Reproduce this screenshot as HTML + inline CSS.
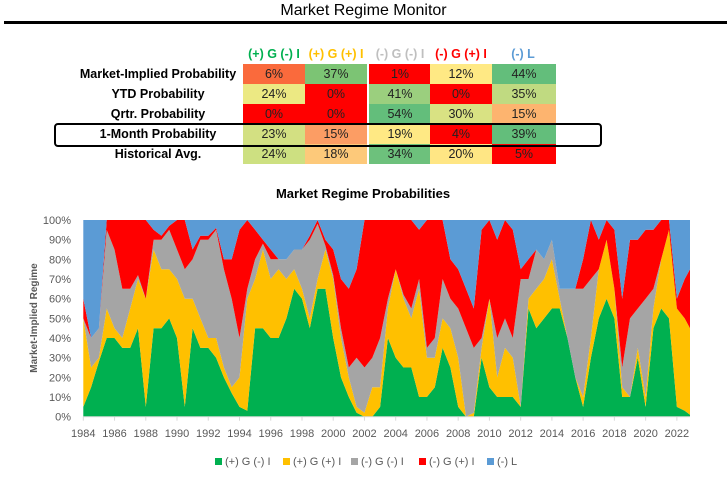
<!DOCTYPE html>
<html><head><meta charset="utf-8"><style>
body{margin:0;width:727px;height:479px;background:#fff;font-family:"Liberation Sans",sans-serif;position:relative;overflow:hidden}
.abs{position:absolute}
.lbl{position:absolute;left:58px;width:200px;text-align:center;height:20px;line-height:20px;font-weight:bold;font-size:12.5px;color:#000;white-space:nowrap}
.cell{position:absolute;width:62px;height:20px;line-height:20px;text-align:center;font-size:12.5px;color:#222}
.hd{position:absolute;width:62px;text-align:center;font-size:12.5px;font-weight:bold;top:47px}
</style></head><body>
<div class="abs" style="left:0;width:727px;top:2px;text-align:center;font-size:16px;">Market Regime Monitor</div>
<div class="abs" style="left:4px;width:723px;top:21px;height:3px;background:#000"></div>
<div id="tbl"></div>
<div class="abs" style="left:54px;top:123px;width:544px;height:20px;border:2.5px solid #000;border-radius:4px"></div>
<svg id="chart" class="abs" style="left:0;top:0" width="727" height="479"></svg>
<script>
const heads=["(+) G (-) I","(+) G (+) I","(-) G (-) I","(-) G (+) I","(-) L"];
const headColors=["#00b050","#ffc000","#bfbfbf","#ff0000","#5b9bd5"];
const rowLabels=["Market-Implied Probability","YTD Probability","Qrtr. Probability","1-Month Probability","Historical Avg."];
const tableVals=[["6%","37%","1%","12%","44%"],["24%","0%","41%","0%","35%"],["0%","0%","54%","30%","15%"],["23%","15%","19%","4%","39%"],["24%","18%","34%","20%","5%"]];
const tableFills=[["#fa6a3c","#7cc474","#ff0000","#ffe984","#63be7b"],["#ece983","#ff0000","#9bcf7e","#ff0000","#c0da81"],["#ff0000","#ff0000","#63be7b","#d9e283","#fdb46f"],["#d3e082","#fc9d64","#ffe984","#ff0000","#63be7b"],["#cde081","#fdc97a","#6dc17c","#ffe684","#ff0000"]];
const colX=[243,305,369,430,492];
const tbl=document.getElementById('tbl');
heads.forEach((h,i)=>{const d=document.createElement('div');d.className='hd';d.style.left=colX[i]+'px';d.style.color=headColors[i];d.textContent=h;


tbl.appendChild(d);});
rowLabels.forEach((r,j)=>{const y=64+j*20;const l=document.createElement('div');l.className='lbl';l.style.top=y+'px';l.textContent=r;


tbl.appendChild(l);
tableVals[j].forEach((v,i)=>{const c=document.createElement('div');c.className='cell';c.style.left=colX[i]+'px';c.style.top=y+'px';c.style.width=(i==4?64:62)+'px';c.style.background=tableFills[j][i];c.textContent=v;


tbl.appendChild(c);});});

// chart data
const years=[1984,1984.5,1985,1985.5,1986,1986.5,1987,1987.5,1988,1988.5,1989,1989.5,1990,1990.5,1991,1991.5,1992,1992.5,1993,1993.5,1994,1994.5,1995,1995.5,1996,1996.5,1997,1997.5,1998,1998.5,1999,1999.5,2000,2000.5,2001,2001.5,2002,2002.5,2003,2003.5,2004,2004.5,2005,2005.5,2006,2006.5,2007,2007.5,2008,2008.5,2009,2009.5,2010,2010.5,2011,2011.5,2012,2012.5,2013,2013.5,2014,2014.5,2015,2015.5,2016,2016.5,2017,2017.5,2018,2018.5,2019,2019.5,2020,2020.5,2021,2021.5,2022,2022.5,2022.85];
const gPosLowI=[5,15,28,40,40,35,35,45,5,45,45,50,40,5,45,35,35,30,20,12,5,3,45,45,40,40,50,65,60,45,65,65,40,20,10,2,0,0,5,40,30,25,25,10,10,15,35,25,5,0,0,30,15,10,10,10,5,55,45,50,55,55,40,20,5,30,50,60,50,10,10,30,5,45,55,50,5,3,1];
const gPosHiI=[45,10,2,15,5,5,20,25,55,40,30,25,30,55,15,15,5,10,5,3,15,57,25,40,30,35,20,10,5,5,5,20,30,20,10,3,2,15,10,15,45,35,25,55,20,15,15,20,25,0,2,5,45,10,25,20,0,5,20,20,25,5,0,0,5,10,25,30,15,5,0,5,5,10,25,45,50,47,44];
const gNegLowI=[0,15,15,40,40,25,10,2,0,5,15,20,15,15,20,40,50,55,50,45,20,5,10,3,10,5,10,10,20,40,28,2,2,5,5,25,23,15,25,5,0,2,5,5,5,10,20,15,25,45,33,5,0,20,15,10,65,10,20,10,10,5,25,45,55,30,0,0,0,10,40,20,50,10,0,0,0,0,0];
const gNegHiI=[10,0,0,5,15,35,35,28,40,5,2,2,15,25,5,2,2,1,5,20,55,35,15,2,5,0,0,0,0,2,2,3,13,25,40,45,75,70,60,40,25,38,45,25,65,60,30,20,20,20,20,55,40,50,50,55,5,10,0,0,0,0,0,0,15,30,15,10,30,35,40,35,35,30,20,5,5,20,30];
const liquidity=[40,60,55,0,0,0,0,0,0,5,8,3,0,0,15,8,8,4,20,20,5,0,5,10,15,20,20,15,15,8,0,10,15,30,35,25,0,0,0,0,0,0,0,5,0,0,0,20,25,35,45,5,0,10,0,5,25,20,15,20,10,35,35,35,20,0,10,0,5,40,10,10,5,5,0,0,40,30,25];
const yTicks=[0,10,20,30,40,50,60,70,80,90,100];
const xTicks=[1984,1986,1988,1990,1992,1994,1996,1998,2000,2002,2004,2006,2008,2010,2012,2014,2016,2018,2020,2022];
const seriesNames=["(+) G (-) I","(+) G (+) I","(-) G (-) I","(-) G (+) I","(-) L"];
const seriesColors=["#00b050","#ffc000","#a5a5a5","#ff0000","#5b9bd5"];

const NS='http://www.w3.org/2000/svg';
const svg=document.getElementById('chart');
const X0=83.3,X1=690,Y0=416.7,Y1=220;
const xs=y=>X0+(y-1984)*15.62;
const xScale=y=>Math.min(X1,xs(y));
const yScale=v=>Y0-(v/100)*(Y0-Y1);
function el(t,a,txt){const e=document.createElementNS(NS,t);for(const k in a)e.setAttribute(k,a[k]);if(txt!==undefined)e.textContent=txt;svg.appendChild(e);return e;}
const t=el('text',{x:363,y:198,'text-anchor':'middle','font-size':'13','font-weight':'bold','font-family':'Liberation Sans'},'Market Regime Probabilities');


const series=[gPosLowI,gPosHiI,gNegLowI,gNegHiI,liquidity];
let base=years.map(()=>0);
series.forEach((s,k)=>{
  const top=base.map((b,i)=>b+s[i]);
  const lastX=years.length-1;
  let d='M'+xScale(years[0])+','+yScale(top[0]);
  years.forEach((y,i)=>{d+=' L'+xScale(y).toFixed(1)+','+yScale(k==4?100:top[i]).toFixed(1);});
  d+=' L'+X1+','+yScale(k==4?100:top[lastX]);
  d+=' L'+X1+','+yScale(base[lastX]);
  for(let i=lastX;i>=0;i--)d+=' L'+xScale(years[i]).toFixed(1)+','+yScale(base[i]).toFixed(1);
  d+='Z';
  const p=el('path',{d:d,fill:seriesColors[k]});
  
  
  base=top;
});
el('line',{x1:X0,x2:X1,y1:Y0,y2:Y0,stroke:'#d9d9d9','stroke-width':1});
yTicks.forEach(v=>{const tt=el('text',{x:71,y:yScale(v)+4,'text-anchor':'end','font-size':'11','fill':'#595959','font-family':'Liberation Sans'},v+'%');

});
xTicks.forEach(v=>{el('line',{x1:xs(v),x2:xs(v),y1:Y0,y2:Y0+4,stroke:'#d9d9d9'});
const tt=el('text',{x:xs(v),y:437,'text-anchor':'middle','font-size':'11','fill':'#595959','font-family':'Liberation Sans'},v);

});
const at=el('text',{x:0,y:0,transform:'translate(37,318) rotate(-90)','text-anchor':'middle','font-size':'10','font-weight':'bold','fill':'#595959','font-family':'Liberation Sans'},'Market-Implied Regime');


const legX=[215,283,351,419,487];
seriesNames.forEach((n,k)=>{
  const r=el('rect',{x:legX[k],y:458,width:7,height:7,fill:seriesColors[k]});
  
  
  const tt=el('text',{x:legX[k]+10,y:465,'font-size':'11','fill':'#595959','font-family':'Liberation Sans'},n);
  
  
});
</script>
</body></html>
